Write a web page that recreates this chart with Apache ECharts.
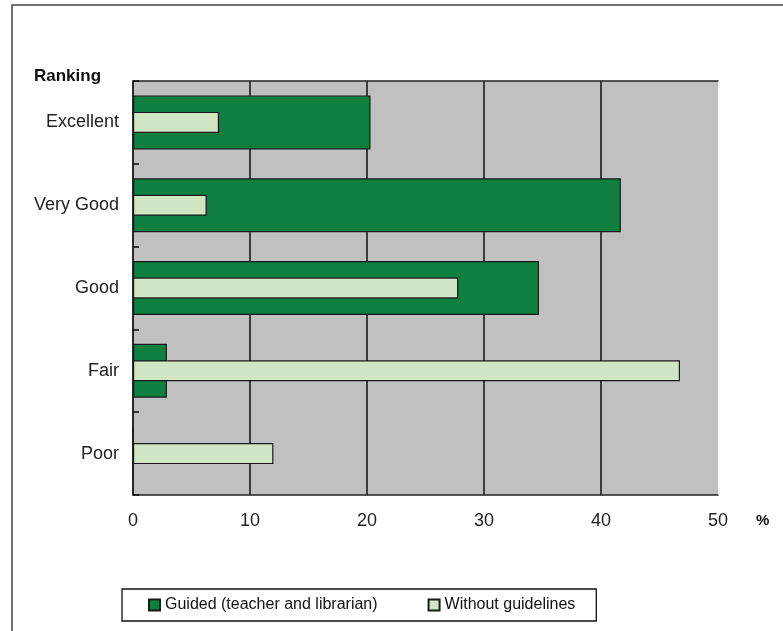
<!DOCTYPE html>
<html>
<head>
<meta charset="utf-8">
<script src="https://cdn.jsdelivr.net/npm/echarts@6/dist/echarts.min.js"></script>
<style>
html,body{margin:0;padding:0;background:#fff;}
#c{width:783px;height:631px;}
</style>
</head>
<body>
<div id="c"></div>
<script>
var categories = ['Excellent', 'Very Good', 'Good', 'Fair', 'Poor'];
var guided = [20.3, 41.7, 34.7, 2.9, 0];
var withoutGuidelines = [7.35, 6.3, 27.8, 46.75, 12.0];
var xTicks = { min: 0, max: 50, interval: 10 };
var seriesNames = ['Guided (teacher and librarian)', 'Without guidelines'];

var FONT = '"Liberation Sans", Arial, sans-serif';
var chart = echarts.init(document.getElementById('c'), null, { renderer: 'canvas' });

chart.setOption({
  animation: false,
  backgroundColor: '#ffffff',
  title: {
    text: 'Ranking',
    left: 29,
    top: 63,
    textStyle: { fontFamily: FONT, fontSize: 17, fontWeight: 'bold', color: '#111' }
  },
  legend: {
    left: 122,
    top: 589,
    backgroundColor: '#fff',
    borderColor: '#111',
    borderWidth: 1.3,
    borderRadius: 0,
    padding: [8, 21, 8, 26],
    itemWidth: 11,
    itemHeight: 11,
    itemGap: 50,
    icon: 'rect',
    textStyle: { fontFamily: FONT, fontSize: 16, color: '#111' },
    data: seriesNames
  },
  grid: {
    left: 133, right: 65, top: 81, bottom: 136,
    show: true, backgroundColor: '#c0c0c0', borderWidth: 0
  },
  xAxis: [{
    type: 'value', min: xTicks.min, max: xTicks.max, interval: xTicks.interval,
    position: 'bottom',
    axisLine: { show: true, lineStyle: { color: '#222', width: 1.5 } },
    axisTick: { show: false },
    axisLabel: { margin: 17, fontFamily: FONT, fontSize: 18, color: '#222' },
    splitLine: { show: true, showMinLine: true, showMaxLine: false, lineStyle: { color: '#111', width: 1.5 } }
  }, {
    type: 'value', min: xTicks.min, max: xTicks.max, interval: xTicks.interval,
    position: 'top',
    axisLine: { show: true, lineStyle: { color: '#222', width: 1.5 } },
    axisTick: { show: false }, axisLabel: { show: false }, splitLine: { show: false }
  }],
  yAxis: [{
    type: 'category', data: categories, inverse: true,
    axisLine: { show: true, onZero: false, lineStyle: { color: '#222', width: 1.5 } },
    axisTick: { show: true, inside: true, length: 6, lineStyle: { color: '#111', width: 1.6 } },
    axisLabel: { margin: 14, fontFamily: FONT, fontSize: 18, color: '#222' },
    splitLine: { show: false }
  }, {
    type: 'category', data: categories, inverse: true, position: 'left',
    axisLine: { show: false }, axisTick: { show: false }, axisLabel: { show: false },
    splitLine: { show: false }
  }],
  series: [{
    name: seriesNames[0], type: 'bar', yAxisIndex: 0, xAxisIndex: 0,
    data: guided, barWidth: 54, z: 2,
    itemStyle: { color: '#0e7f3f', borderColor: '#1a1a1a', borderWidth: 1.2 }
  }, {
    name: seriesNames[1], type: 'bar', yAxisIndex: 1, xAxisIndex: 0,
    data: withoutGuidelines, barWidth: 21, z: 3,
    itemStyle: { color: '#d1e6c4', borderColor: '#1a1a1a', borderWidth: 1.2 }
  }],
  graphic: [{
    type: 'rect', shape: { x: 12, y: 5, width: 900, height: 800 },
    style: { fill: 'none', stroke: '#444', lineWidth: 1.5 }, silent: true, z: -1
  }, {
    type: 'text', left: 756, top: 513,
    style: { text: '%', fontFamily: FONT, fontSize: 15, fontWeight: 'bold', fill: '#111' }
  }]
});
</script>
</body>
</html>
